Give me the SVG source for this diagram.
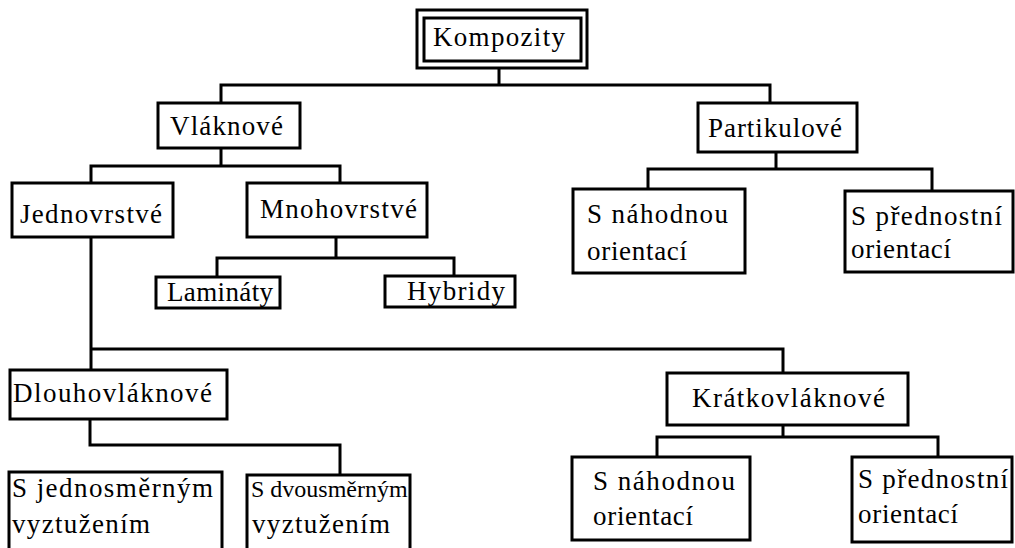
<svg xmlns="http://www.w3.org/2000/svg" width="1015" height="548" viewBox="0 0 1015 548">
<style>
.box{fill:#fff;stroke:#000;stroke-width:3}
.ln{fill:none;stroke:#000;stroke-width:3;stroke-linecap:square}
text{font-family:"Liberation Serif","Times New Roman",serif;font-size:27px;fill:#000}
</style>
<rect width="1015" height="548" fill="#fff"/>
<g id="connectors">
<path class="ln" d="M499,68 V85 M221,85 H770 M221,85 V103 M770,85 V103"/>
<path class="ln" d="M221,148 V166 M91,166 H340 M91,166 V183 M340,166 V183"/>
<path class="ln" d="M336,237 V258 M217,258 H454 M217,258 V277 M454,258 V276"/>
<path class="ln" d="M776,152 V169 M648,169 H932 M648,169 V189 M932,169 V191"/>
<path class="ln" d="M91,237 V370 M91,349 H783 M783,349 V373"/>
<path class="ln" d="M90,419 V445 H340 V475"/>
<path class="ln" d="M783,425 V437 M657,437 H938 M657,437 V457 M938,437 V457"/>
</g>
<g id="kompozity">
<rect class="box" x="417" y="10" width="170" height="58"/>
<rect class="box" x="424" y="18" width="157" height="43"/>
<text x="433" y="46" textLength="132">Kompozity</text>
</g>
<g id="vlaknove">
<rect class="box" x="158" y="103" width="142" height="45"/>
<text x="170" y="135" textLength="113">Vláknové</text>
</g>
<g id="partikulove">
<rect class="box" x="698" y="103" width="159" height="49"/>
<text x="708" y="137" textLength="134">Partikulové</text>
</g>
<g id="jednovrstve">
<rect class="box" x="12" y="183" width="161" height="54"/>
<text x="20" y="223" textLength="142">Jednovrstvé</text>
</g>
<g id="mnohovrstve">
<rect class="box" x="247" y="183" width="180" height="54"/>
<text x="260" y="218" textLength="157">Mnohovrstvé</text>
</g>
<g id="laminaty">
<rect class="box" x="156" y="277" width="124" height="31"/>
<text x="167" y="301" textLength="106">Lamináty</text>
</g>
<g id="hybridy">
<rect class="box" x="385" y="276" width="130" height="31"/>
<text x="407" y="300" textLength="98">Hybridy</text>
</g>
<g id="p-nahodnou">
<rect class="box" x="573" y="189" width="172" height="84"/>
<text x="587" y="223" textLength="141">S náhodnou</text>
<text x="587" y="260" textLength="100">orientací</text>
</g>
<g id="p-prednostni">
<rect class="box" x="845" y="191" width="168" height="81"/>
<text x="851" y="225" textLength="151">S přednostní</text>
<text x="851" y="258" textLength="100">orientací</text>
</g>
<g id="dlouhovlaknove">
<rect class="box" x="10" y="370" width="217" height="49"/>
<text x="13" y="402" textLength="199">Dlouhovláknové</text>
</g>
<g id="kratkovlaknove">
<rect class="box" x="667" y="373" width="241" height="52"/>
<text x="692" y="407" textLength="193">Krátkovláknové</text>
</g>
<g id="k-nahodnou">
<rect class="box" x="572" y="457" width="178" height="83"/>
<text x="593" y="490" textLength="142">S náhodnou</text>
<text x="593" y="525" textLength="100">orientací</text>
</g>
<g id="k-prednostni">
<rect class="box" x="852" y="457" width="160" height="85"/>
<text x="858" y="488" textLength="150">S přednostní</text>
<text x="858" y="523" textLength="100">orientací</text>
</g>
<g id="jednosmernym">
<rect class="box" x="9" y="472" width="213" height="90"/>
<text x="12" y="497" textLength="201">S jednosměrným</text>
<text x="12" y="533" textLength="138">vyztužením</text>
</g>
<g id="dvousmernym">
<rect class="box" x="247" y="475" width="163" height="90"/>
<text x="251" y="497" style="font-size:24px">S dvousměrným</text>
<text x="252" y="533" textLength="138">vyztužením</text>
</g>
</svg>
